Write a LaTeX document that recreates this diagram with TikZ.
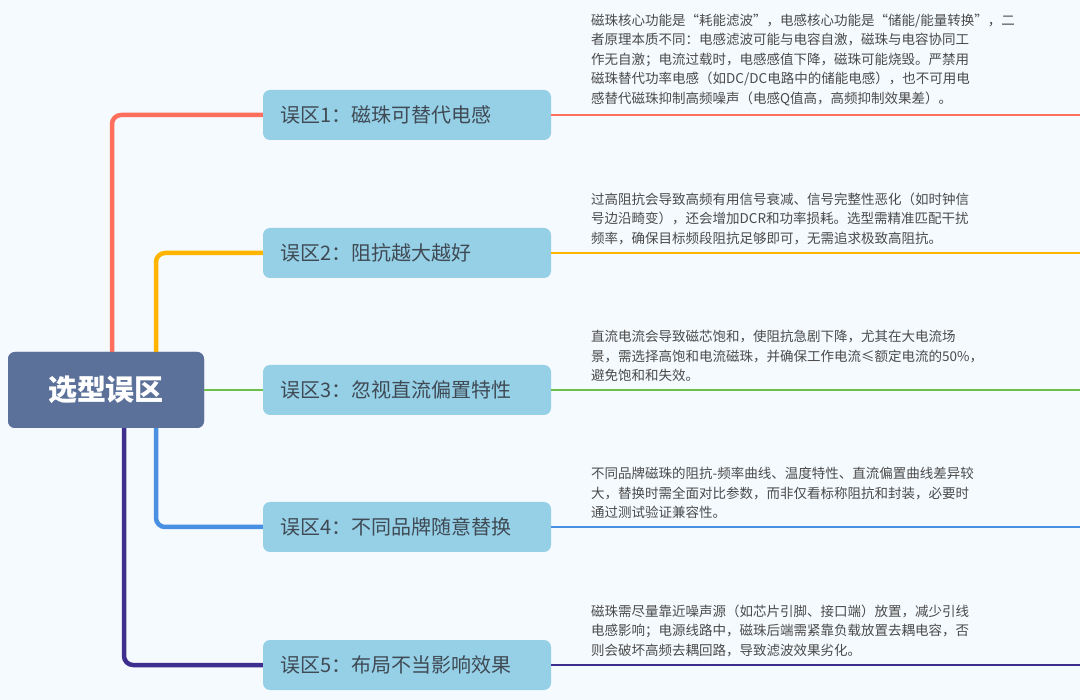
\documentclass[tikz,border=0pt]{standalone}
\usepackage{fontspec}
\setmainfont{Noto Sans CJK SC}
\begin{document}
\begin{tikzpicture}[x=1pt,y=-1pt,
  br/.style={rounded corners=9pt,line width=4.5pt},
  tail/.style={line width=2pt},
  mis/.style={draw=none,fill=boxc,rounded corners=7pt,minimum width=288pt,minimum height=50pt,text=txt,font=\fontsize{20}{24}\selectfont,align=left,text width=254pt,inner xsep=17pt},
  desc/.style={anchor=south west,text=txt2,font=\fontsize{13.5}{19.5}\selectfont,align=left,inner sep=0pt}]
\definecolor{bg}{HTML}{F5FAFE}
\definecolor{boxc}{HTML}{96D0E6}
\definecolor{txt}{HTML}{3F4A55}
\definecolor{txt2}{HTML}{4A4A4A}
\definecolor{rootc}{HTML}{5B7199}
\definecolor{c1}{HTML}{FF6F5E}
\definecolor{c2}{HTML}{FFB400}
\definecolor{c3}{HTML}{6CC04A}
\definecolor{c4}{HTML}{4A90E2}
\definecolor{c5}{HTML}{3E2F8F}
\fill[bg] (0,0) rectangle (1080,700);
\useasboundingbox (0,0) rectangle (1080,700);
\node[fill=rootc,rounded corners=7pt,minimum width=196pt,minimum height=76pt,text=white,font=\fontsize{29}{32}\selectfont\bfseries] (root) at (106,390) {选型误区};
\node[mis] (m1) at (407,115) {误区1：磁珠可替代电感};
\node[mis] (m2) at (407,253) {误区2：阻抗越大越好};
\node[mis] (m3) at (407,390) {误区3：忽视直流偏置特性};
\node[mis] (m4) at (407,527) {误区4：不同品牌随意替换};
\node[mis] (m5) at (407,665) {误区5：布局不当影响效果};
\coordinate (e1) at (1080,115);
\coordinate (e2) at (1080,253);
\coordinate (e3) at (1080,390);
\coordinate (e4) at (1080,527);
\coordinate (e5) at (1080,665);
\begin{scope}[on background layer/.style={}]
\draw[br,c1] (112,352) |- (m1.west);
\draw[br,c2] (156,352) |- (m2.west);
\draw[tail,c3] (root.east) -- (m3.west);
\draw[br,c4] (156,428) |- (m4.west);
\draw[br,c5] (124,428) |- (m5.west);
\end{scope}
\node[fill=rootc,rounded corners=7pt,minimum width=196pt,minimum height=76pt,text=white,font=\fontsize{29}{32}\selectfont\bfseries] at (root) {选型误区};
\draw[tail,c1] (m1.east) -- (e1);
\draw[tail,c2] (m2.east) -- (e2);
\draw[tail,c3] (m3.east) -- (e3);
\draw[tail,c4] (m4.east) -- (e4);
\draw[tail,c5] (m5.east) -- (e5);
\node[desc] (d1) at (591,106) {磁珠核心功能是“耗能滤波”，电感核心功能是“储能/能量转换”，二\\者原理本质不同：电感滤波可能与电容自激，磁珠与电容协同工\\作无自激；电流过载时，电感感值下降，磁珠可能烧毁。严禁用\\磁珠替代功率电感（如DC/DC电路中的储能电感），也不可用电\\感替代磁珠抑制高频噪声（电感Q值高，高频抑制效果差）。};
\node[desc] (d2) at (591,245) {过高阻抗会导致高频有用信号衰减、信号完整性恶化（如时钟信\\号边沿畸变），还会增加DCR和功率损耗。选型需精准匹配干扰\\频率，确保目标频段阻抗足够即可，无需追求极致高阻抗。};
\node[desc] (d3) at (591,382) {直流电流会导致磁芯饱和，使阻抗急剧下降，尤其在大电流场\\景，需选择高饱和电流磁珠，并确保工作电流≤额定电流的50\%，\\避免饱和和失效。};
\node[desc] (d4) at (591,519) {不同品牌磁珠的阻抗-频率曲线、温度特性、直流偏置曲线差异较\\大，替换时需全面对比参数，而非仅看标称阻抗和封装，必要时\\通过测试验证兼容性。};
\node[desc] (d5) at (591,657) {磁珠需尽量靠近噪声源（如芯片引脚、接口端）放置，减少引线\\电感影响；电源线路中，磁珠后端需紧靠负载放置去耦电容，否\\则会破坏高频去耦回路，导致滤波效果劣化。};
\end{tikzpicture}
\end{document}
